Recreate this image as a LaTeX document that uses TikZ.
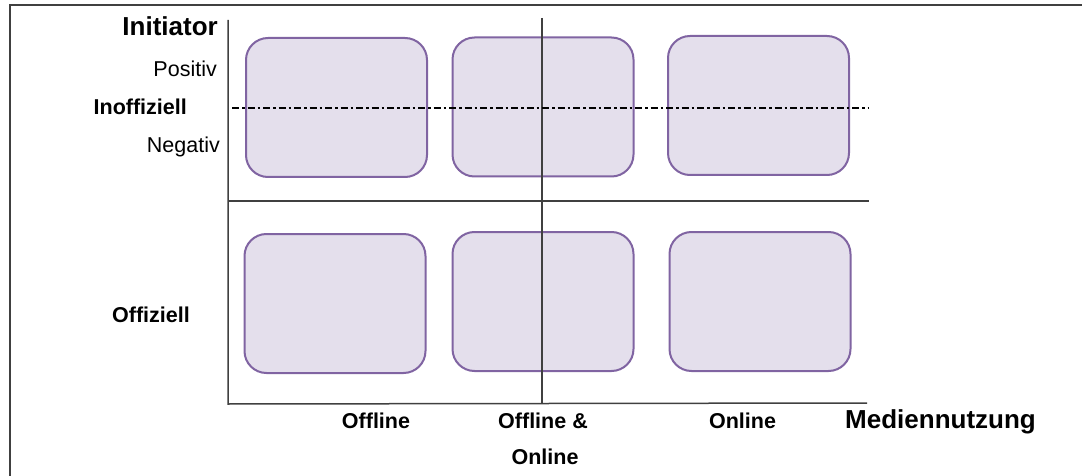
\documentclass[tikz,border=0pt]{standalone}
\usepackage{fontspec}
\setmainfont{Liberation Sans}
\usepackage{tikz}

\definecolor{feldrand}{HTML}{8064A2}
\definecolor{feldfill}{HTML}{E4DFEC}
\definecolor{achse}{HTML}{404040}

\begin{document}
\begin{tikzpicture}[x=1pt, y=-1pt,
		feld/.style={draw=feldrand, fill=feldfill, line width=2pt, rounded corners=22pt, minimum width=181pt, minimum height=139pt, inner sep=0pt},
		gross/.style={font=\fontsize{26}{30}\selectfont\bfseries, inner sep=0pt},
		klein/.style={font=\fontsize{21.5}{26}\selectfont, inner sep=0pt},
		kleinfett/.style={font=\fontsize{21.5}{26}\selectfont\bfseries, inner sep=0pt},
		achsenlinie/.style={draw=achse, line width=1.5pt}]
				\useasboundingbox (0,0) rectangle (1082,476);
				% Rahmen
				\coordinate (R1) at (9.5,476);
				\coordinate (R2) at (9.5,5);
				\coordinate (R3) at (1082,5);
				\draw[draw=achse, line width=2pt] (R1) -- (R2) -- (R3);
				% Felder
				\node[feld] (A1) at (336.5,107.5) {};
				\node[feld] (B1) at (543,107) {};
				\node[feld] (C1) at (758.5,105.5) {};
				\node[feld] (A2) at (335,303.5) {};
				\node[feld] (B2) at (543,301.5) {};
				\node[feld] (C2) at (760,301.5) {};
				% Achsen
				\coordinate (Y0) at (228,404);
				\coordinate (Y1) at (228,20);
				\coordinate (X1) at (867,403);
				\coordinate (M0) at (228,201);
				\coordinate (M1) at (869,201);
				\coordinate (V0) at (542,18);
				\coordinate (V1) at (542,403);
				\coordinate (D0) at (232,108);
				\coordinate (D1) at (868,108);
				\draw[achsenlinie] (Y1) -- (Y0) -- (X1);
				\draw[achsenlinie, line width=1.2pt] (M0) -- (M1);
				\draw[achsenlinie, line width=1.2pt] (V0) -- (V1);
				\draw[line width=1.5pt, dash pattern=on 7pt off 3pt on 2.5pt off 3pt] (D0) -- (D1);
				% Beschriftung
				\node[gross, anchor=base east] (init) at (218,36) {Initiator};
				\node[klein, anchor=base east] (pos) at (217,77) {Positiv};
				\node[kleinfett, anchor=base east] (inoff) at (187,115) {Inoffiziell};
				\node[klein, anchor=base east] (neg) at (220,153) {Negativ};
				\node[kleinfett, anchor=base east] (off) at (190,322) {Offiziell};
				\node[kleinfett, anchor=base] (offline) at (376,428) {Offline};
				\node[kleinfett, anchor=base] (beide) at (543,428) {Offline \&};
				\node[kleinfett, anchor=base] (beide2) at (545,464) {Online};
				\node[kleinfett, anchor=base] (online) at (742.5,428) {Online};
				\node[gross, anchor=base west] (medien) at (845,428) {Mediennutzung};
\end{tikzpicture}
\end{document}
